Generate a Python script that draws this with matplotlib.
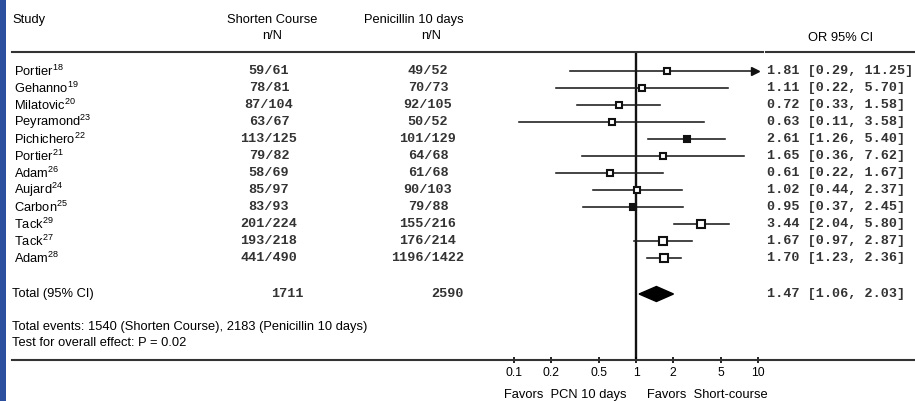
"""plot.py — forest plot: shortened antibiotic course vs penicillin 10 days."""
import numpy as np
import matplotlib
matplotlib.use("Agg")
import matplotlib.pyplot as plt
from matplotlib.patches import Rectangle
from matplotlib.lines import Line2D
from matplotlib.transforms import blended_transform_factory

# ---- data ----
studies = ["Portier", "Gehanno", "Milatovic", "Peyramond", "Pichichero", "Portier",
           "Adam", "Aujard", "Carbon", "Tack", "Tack", "Adam"]
refs = ["18", "19", "20", "23", "22", "21", "26", "24", "25", "29", "27", "28"]
short_nN = ["59/61", "78/81", "87/104", "63/67", "113/125", "79/82",
            "58/69", "85/97", "83/93", "201/224", "193/218", "441/490"]
pcn_nN = ["49/52", "70/73", "92/105", "50/52", "101/129", "64/68",
          "61/68", "90/103", "79/88", "155/216", "176/214", "1196/1422"]
odds = [1.81, 1.11, 0.72, 0.63, 2.61, 1.65, 0.61, 1.02, 0.95, 3.44, 1.67, 1.70]
ci_lo = [0.29, 0.22, 0.33, 0.11, 1.26, 0.36, 0.22, 0.44, 0.37, 2.04, 0.97, 1.23]
ci_hi = [11.25, 5.70, 1.58, 3.58, 5.40, 7.62, 1.67, 2.37, 2.45, 5.80, 2.87, 2.36]

total_short = "1711"
total_pcn = "2590"
pooled_or, pooled_lo, pooled_hi = 1.47, 1.06, 2.03

xticks = [0.1, 0.2, 0.5, 1, 2, 5, 10]
xtick_labels = ["0.1", "0.2", "0.5", "1", "2", "5", "10"]

# ---- style ----
filled = [False, False, False, False, True, False, False, False, True, False, False, False]
big = [False] * 9 + [True] * 3
SANS = ["Liberation Sans", "DejaVu Sans"]
MONO = ["Liberation Mono", "DejaVu Sans Mono"]
plt.rcParams["font.family"] = SANS
plt.rcParams["mathtext.default"] = "regular"
FS = 9.3        # sans text
FM = 9.7        # mono numbers

W, H = 915, 401
fig = plt.figure(figsize=(W / 100, H / 100), dpi=100)
fx = lambda px: px / W
fy = lambda py: 1 - py / H

# blue border at the left
fig.patches.append(Rectangle((0, 0), fx(6), 1, transform=fig.transFigure,
                             facecolor="#2c4f9e", edgecolor="none"))

ax = fig.add_axes([fx(460), fy(360), fx(763) - fx(460), fy(52) - fy(360)])
ax.set_xscale("log")
# 1 decade = 122 px, x=1 at px 636
ax.set_xlim(10 ** ((460 - 636) / 122), 10 ** ((763 - 636) / 122))
row_px = 17.0
ax.set_ylim((360 - 71) / row_px, (52 - 71) / row_px)
for s in ax.spines.values():
    s.set_visible(False)
ax.set_yticks([])
ax.set_xticks(xticks)
ax.set_xticklabels(xtick_labels, fontsize=8.8)
ax.xaxis.set_minor_locator(matplotlib.ticker.NullLocator())
ax.tick_params(axis="x", length=4, width=1.2, direction="inout", pad=3)

rows = np.arange(len(studies))
total_row = (294 - 71) / row_px

ax.axvline(1, color="#111111", lw=1.7, zorder=1)

clip_hi = 10 ** ((755 - 636) / 122)
for i in rows:
    hi = min(ci_hi[i], clip_hi)
    ax.plot([ci_lo[i], hi], [i, i], color="#1a1a1a", lw=1.15, zorder=2)
    if ci_hi[i] > clip_hi:
        ax.plot([hi], [i], marker=">", ms=6, color="#111111", zorder=3)
    ax.plot([odds[i]], [i], marker="s", ms=5.2 if big[i] else 4.2,
            mfc="#111111" if filled[i] else "white", mec="#111111",
            mew=1.5, zorder=4)

dh = 7.5 / row_px
ax.fill([pooled_lo, pooled_or, pooled_hi, pooled_or],
        [total_row, total_row - dh, total_row, total_row + dh],
        color="black", zorder=4)

# ---- text columns ----
tr = blended_transform_factory(fig.transFigure, ax.transData)
num_kw = dict(transform=tr, family=MONO, fontsize=FM, fontweight="bold",
              color="#333333", va="center", clip_on=False)
for i in rows:
    ax.text(fx(14), i, f"{studies[i]}$^{{{refs[i]}}}$", transform=tr,
            fontsize=FS, va="center", ha="left", clip_on=False)
    ax.text(fx(269), i, short_nN[i], ha="center", **num_kw)
    ax.text(fx(428), i, pcn_nN[i], ha="center", **num_kw)
    ax.text(fx(767), i, f"{odds[i]:.2f} [{ci_lo[i]:.2f}, {ci_hi[i]:.2f}]",
            ha="left", **num_kw)

ax.text(fx(12), total_row, "Total (95% CI)", transform=tr, fontsize=FS,
        va="center", ha="left", clip_on=False)
ax.text(fx(287), total_row, total_short, ha="center", **num_kw)
ax.text(fx(447), total_row, total_pcn, ha="center", **num_kw)
ax.text(fx(767), total_row,
        f"{pooled_or:.2f} [{pooled_lo:.2f}, {pooled_hi:.2f}]", ha="left", **num_kw)

# headers
fig.text(fx(12), fy(20), "Study", fontsize=FS, va="center", ha="left")
fig.text(fx(272), fy(20), "Shorten Course", fontsize=FS, va="center", ha="center")
fig.text(fx(272), fy(36), "n/N", fontsize=FS, va="center", ha="center")
fig.text(fx(414), fy(20), "Penicillin 10 days", fontsize=FS, va="center", ha="center")
fig.text(fx(431), fy(36), "n/N", fontsize=FS, va="center", ha="center")
fig.text(fx(841), fy(38), "OR 95% CI", fontsize=FS, va="center", ha="center")

# footer
fig.text(fx(12), fy(327), "Total events: 1540 (Shorten Course), 2183 (Penicillin 10 days)",
         fontsize=FS, va="center", ha="left")
fig.text(fx(12), fy(343), "Test for overall effect: P = 0.02",
         fontsize=FS, va="center", ha="left")
fig.text(fx(626), fy(395), "Favors  PCN 10 days", fontsize=FS, va="center", ha="right")
fig.text(fx(647), fy(395), "Favors  Short-course", fontsize=FS, va="center", ha="left")

# rules
for x0, x1 in [(12, 763), (766, 915)]:
    fig.add_artist(Line2D([fx(x0), fx(x1)], [fy(52), fy(52)], color="#333333", lw=1.5))
fig.add_artist(Line2D([fx(12), fx(915)], [fy(360), fy(360)], color="#333333", lw=1.5))

fig.savefig("out.png", dpi=100)
